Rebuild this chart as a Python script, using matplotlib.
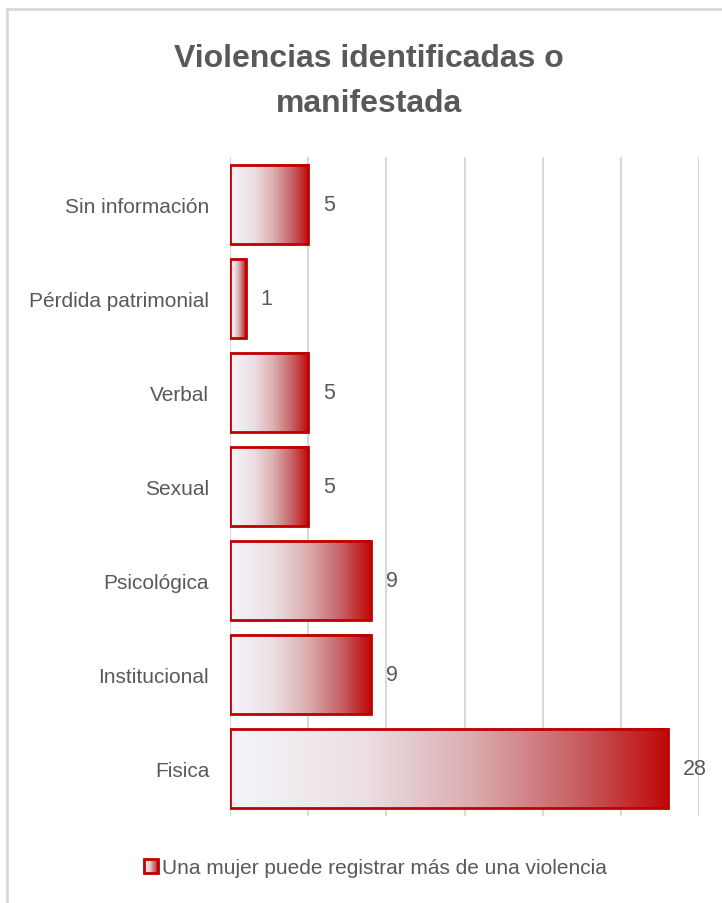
import numpy as np
import matplotlib
matplotlib.use("Agg")
import matplotlib.pyplot as plt
from matplotlib.colors import LinearSegmentedColormap
from matplotlib.legend_handler import HandlerBase
from matplotlib.patches import Rectangle, Patch
from matplotlib.lines import Line2D

categories = ["Sin información", "Pérdida patrimonial", "Verbal", "Sexual",
              "Psicológica", "Institucional", "Fisica"]
values = [5, 1, 5, 5, 9, 9, 28]
title = "Violencias identificadas o\nmanifestada"
legend_label = "Una mujer puede registrar más de una violencia"

NARROW = ["Liberation Sans Narrow", "Liberation Sans", "DejaVu Sans"]
TXT = "#595959"
RED = "#c00000"

cmap = LinearSegmentedColormap.from_list(
    "grad",
    [(0.0, "#f4f5fa"), (0.3, "#ece0e4"), (0.55, "#dbaeb1"),
     (0.8, "#c65e62"), (1.0, "#bf0808")])

fig = plt.figure(figsize=(7.22, 9.04), dpi=100)
ax = fig.add_axes([230/722, 1-817/904, (699-230)/722, (817-158)/904])

y = np.arange(len(categories))
bars = ax.barh(y, values, height=0.84, facecolor="none", edgecolor=RED,
               linewidth=2, zorder=3)
grad = np.linspace(0, 1, 256).reshape(1, -1)
for p in bars.patches:
    x0, y0, w, h = p.get_x(), p.get_y(), p.get_width(), p.get_height()
    ax.imshow(grad, extent=[x0, x0 + w, y0, y0 + h], cmap=cmap,
              aspect="auto", zorder=2, interpolation="bilinear")
    ax.text(x0 + w + 0.95, y0 + h/2, f"{int(w)}", va="center", ha="left",
            fontsize=15.5, color=TXT, family=NARROW)

ax.set_xlim(0, 30)
ax.set_ylim(len(categories) - 0.5, -0.5)
ax.set_xticks(np.arange(0, 31, 5))
ax.set_xticklabels([])
ax.set_yticks(y)
ax.set_yticklabels(categories, family=NARROW, fontsize=15, color=TXT)
ax.tick_params(axis="both", length=0)
ax.tick_params(axis="y", pad=15)
ax.grid(axis="x", color="#d9d9d9", linewidth=1.5, zorder=0)
ax.set_axisbelow(True)
for s in ax.spines.values():
    s.set_visible(False)

fig.text(0.511, 0.9095, title, ha="center", va="center", fontsize=23,
         fontweight="bold", color=TXT, family=["Liberation Sans", "DejaVu Sans"],
         linespacing=1.65)


class HandlerGradient(HandlerBase):
    def create_artists(self, legend, orig_handle, xdescent, ydescent,
                       width, height, fontsize, trans):
        n = 12
        arts = []
        for i in range(n):
            r = Rectangle((-xdescent + width*i/n, -ydescent), width/n, height,
                          facecolor=cmap(i/(n-1)), edgecolor="none",
                          transform=trans)
            arts.append(r)
        arts.append(Rectangle((-xdescent, -ydescent), width, height,
                              facecolor="none", edgecolor=RED, linewidth=2,
                              transform=trans))
        return arts


handle = Patch(facecolor="none", edgecolor=RED)
fig.legend([handle], [legend_label], loc="center", bbox_to_anchor=(0.52, 0.039),
           frameon=False, handler_map={Patch: HandlerGradient()},
           handlelength=0.7, handleheight=0.7, handletextpad=0.2,
           prop={"family": NARROW, "size": 15}, labelcolor=TXT)

fig.add_artist(Line2D([7/722, 7/722], [0, 1-10/904], color="#d9d9d9",
                      linewidth=2, transform=fig.transFigure))
fig.add_artist(Line2D([7/722, 1], [1-10/904, 1-10/904], color="#d9d9d9",
                      linewidth=2, transform=fig.transFigure))

fig.savefig("out.png", dpi=100)
